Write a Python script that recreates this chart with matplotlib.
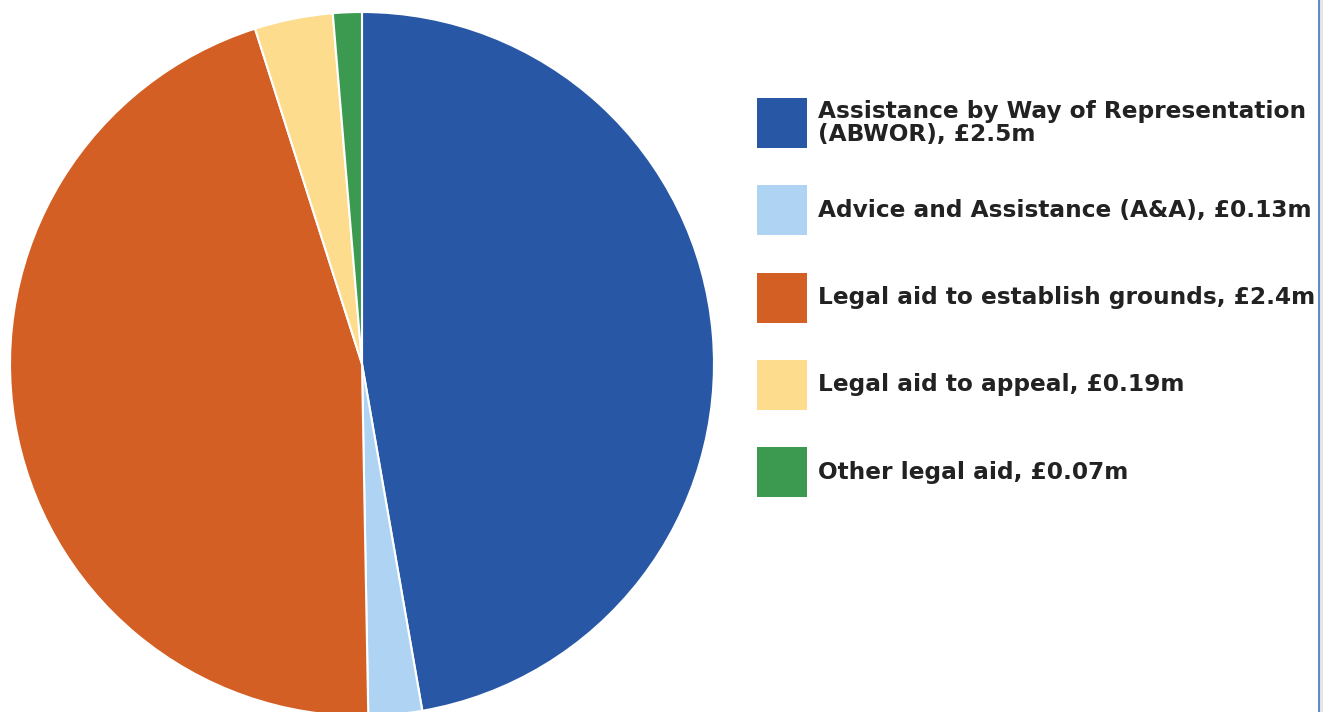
import matplotlib
matplotlib.use("Agg")
import matplotlib.pyplot as plt
from matplotlib.patches import Rectangle
from matplotlib.lines import Line2D

# legal aid spend by type, £m
labels = [
    "Assistance by Way of Representation\n(ABWOR), £2.5m",
    "Advice and Assistance (A&A), £0.13m",
    "Legal aid to establish grounds, £2.4m",
    "Legal aid to appeal, £0.19m",
    "Other legal aid, £0.07m",
]
values = [2.5, 0.13, 2.4, 0.19, 0.07]
colours = ["#2857A6", "#AFD4F3", "#D35F25", "#FDDC8D", "#3B9A50"]

W, H = 1330, 712
fig = plt.figure(figsize=(W / 100, H / 100), dpi=100)

# pie: centre (362, 364) px, radius 352 px, runs off the bottom a little
cx, cy, r = 362, 364, 352
ax = fig.add_axes([(cx - r) / W, (H - cy - r) / H, 2 * r / W, 2 * r / H])
ax.pie(values, colors=colours, startangle=90, counterclock=False,
       radius=1.0, wedgeprops=dict(edgecolor="white", linewidth=1.5))
ax.set_xlim(-1, 1)
ax.set_ylim(-1, 1)
ax.set_aspect("equal")
ax.axis("off")

# legend drawn by hand: 50px squares, 87px apart
top = 98
for i, (lab, col) in enumerate(zip(labels, colours)):
    y0 = top + i * 87.3
    fig.add_artist(Rectangle((757 / W, 1 - (y0 + 50) / H), 50 / W, 50 / H,
                             transform=fig.transFigure, facecolor=col,
                             edgecolor="none"))
    fig.text(818 / W, 1 - (y0 + 25) / H, lab, ha="left", va="center",
             fontsize=16.75, fontweight="bold", color="#222222",
             family="DejaVu Sans", linespacing=0.95)

# frame edge on the right
fig.add_artist(Line2D([1318.5 / W, 1318.5 / W], [0, 1], transform=fig.transFigure,
                      color="#4472C4", linewidth=1.2))
fig.add_artist(Rectangle((1319.5 / W, 0), 3 / W, 1, transform=fig.transFigure,
                         facecolor="#E4E4E4", edgecolor="none"))

fig.savefig("out.png", dpi=100)
